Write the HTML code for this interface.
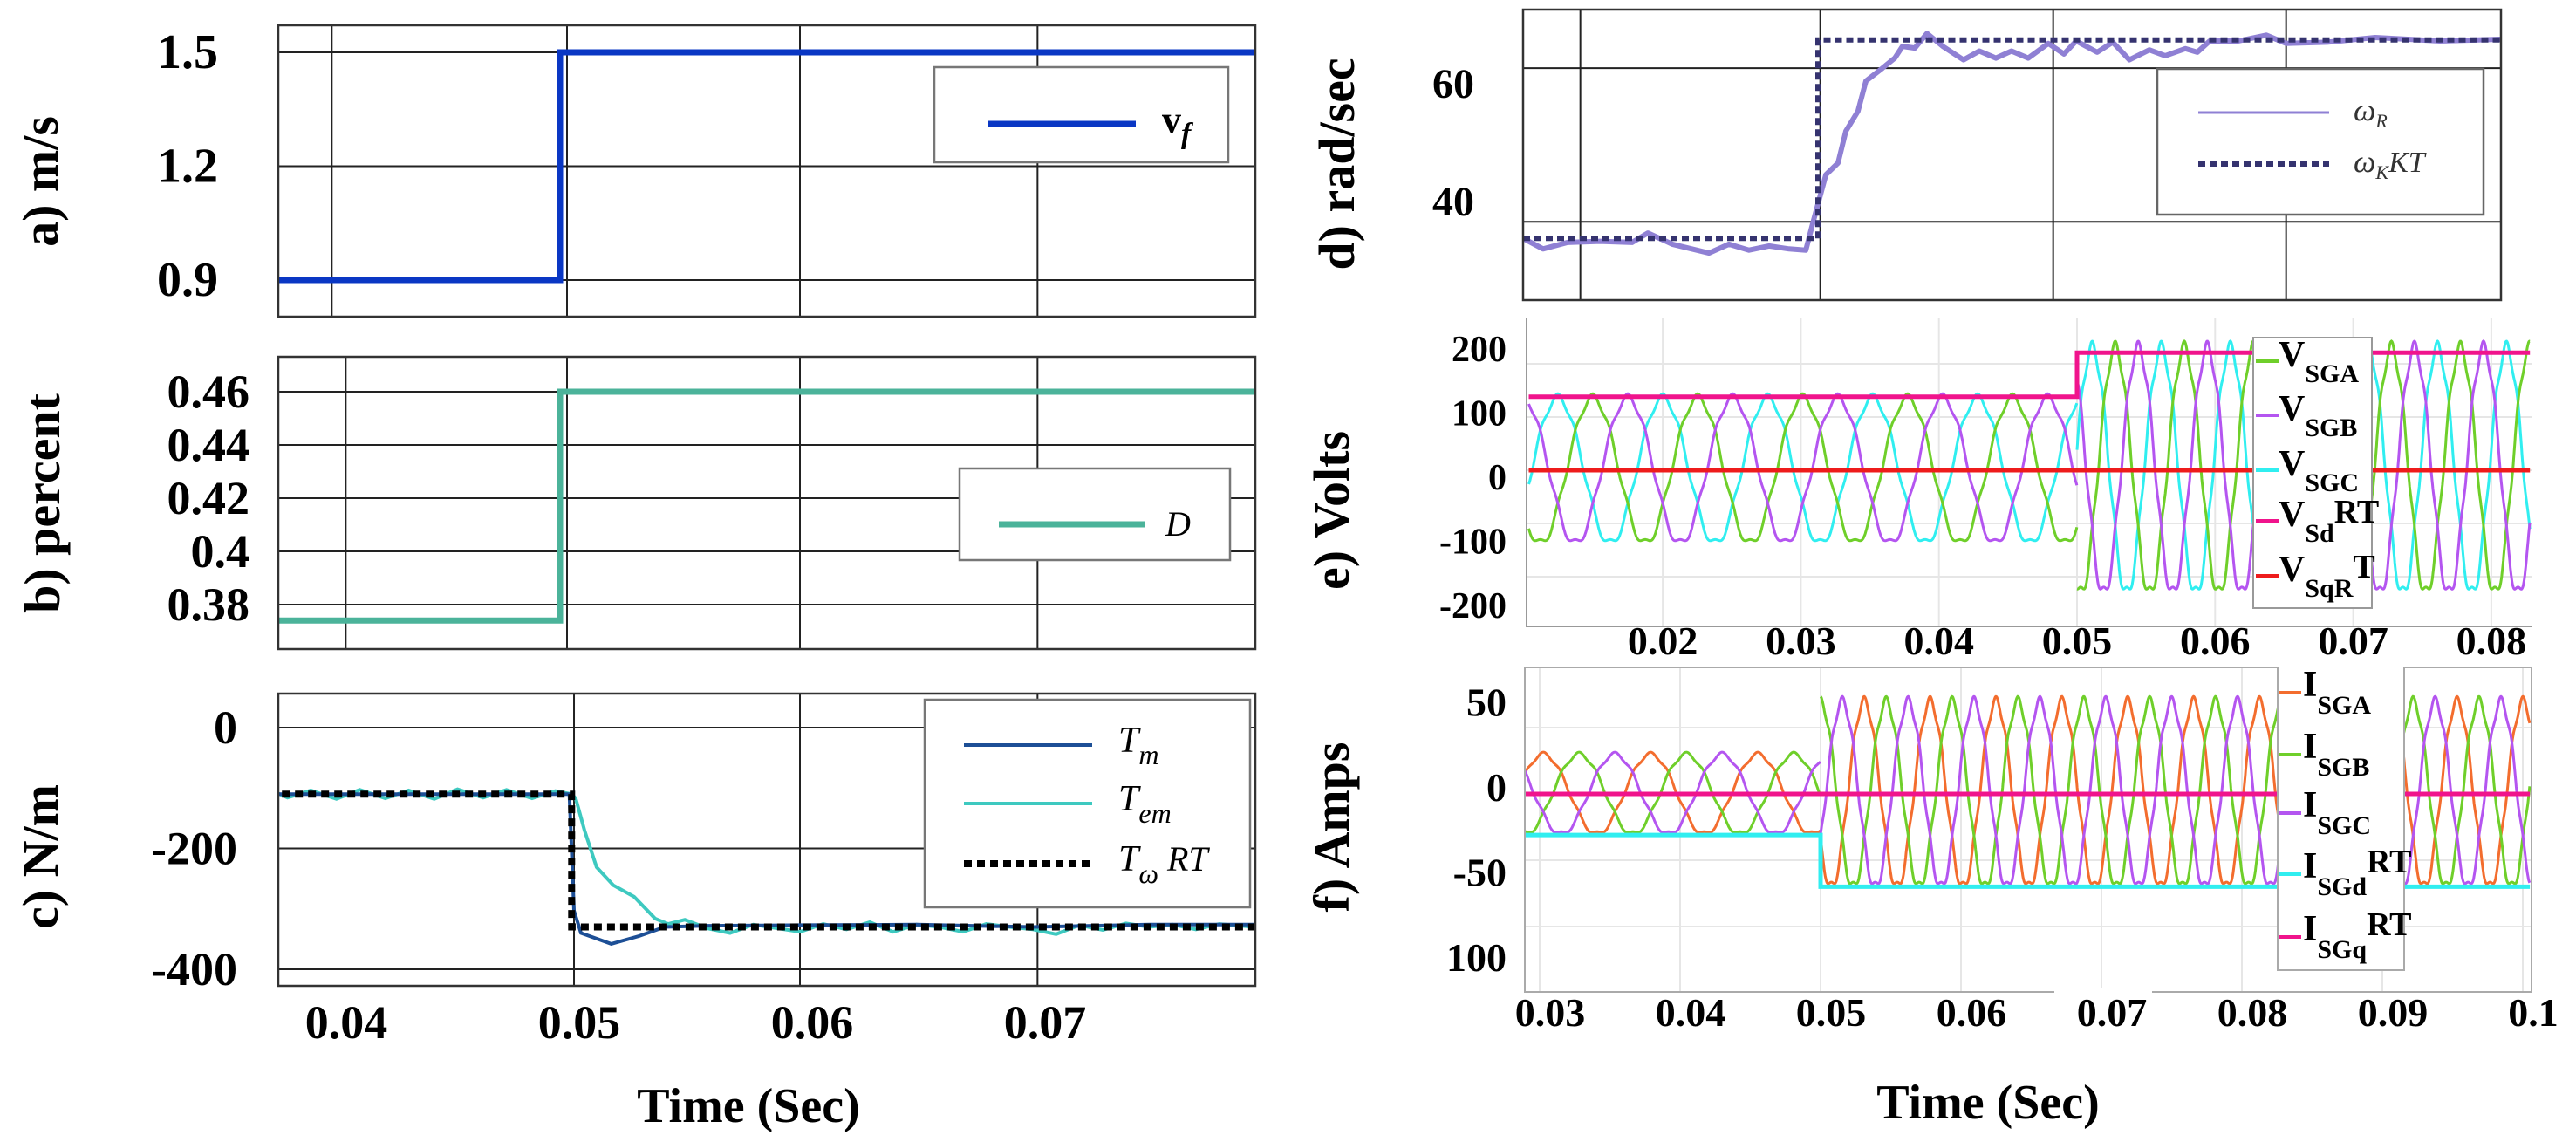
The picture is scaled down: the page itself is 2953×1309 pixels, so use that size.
<!DOCTYPE html>
<html><head><meta charset="utf-8">
<style>
html,body{margin:0;padding:0;background:#fff;}
svg{display:block;}
text{font-family:"Liberation Serif",serif;}
</style></head>
<body>
<svg id="chart" width="2953" height="1309" viewBox="0 0 2953 1309" xmlns="http://www.w3.org/2000/svg">
<defs>
<clipPath id="clipA"><rect x="319" y="29" width="1120" height="334"/></clipPath>
<clipPath id="clipB"><rect x="319" y="409" width="1120" height="335"/></clipPath>
<clipPath id="clipC"><rect x="319" y="795" width="1120" height="335"/></clipPath>
<clipPath id="clipD"><rect x="1746" y="11" width="1121" height="333"/></clipPath>
<clipPath id="clipE"><rect x="1750" y="365" width="1152" height="353"/></clipPath>
<clipPath id="clipF"><rect x="1748" y="765" width="1154" height="372"/></clipPath>
</defs>
</svg>
<script>
// ---------- data ----------
const vfTime=[0.0372,0.0497,0.0497,0.0795];
const vfValue=[0.9,0.9,1.5,1.5];
const aTicks=[0.9,1.2,1.5];
const aGridTimes=[0.0399,0.05,0.06,0.0702];

const dutyTime=[0.0372,0.0497,0.0497,0.0795];
const dutyValue=[0.374,0.374,0.46,0.46];
const bTicks=[0.38,0.4,0.42,0.44,0.46];
const bTickLabels=["0.38","0.4","0.42","0.44","0.46"];
const bGridTimes=[0.0405,0.05,0.06,0.0702];

const tmTime=[0.0372,0.0501,0.0503,0.0506,0.0519,0.0531,0.0542,0.056,0.06,0.065,0.07,0.075,0.0795];
const tmValue=[-110,-110,-303,-340,-358,-345,-330,-328,-327,-326,-330,-326,-326];
const temTime=[0.0372,0.0380,0.0390,0.0401,0.0411,0.0422,0.0432,0.0443,0.0453,0.0464,0.0474,0.0485,0.0495,0.0502,0.05037,0.05075,0.05127,0.05199,0.05288,0.05378,0.05434,0.05506,0.0560,0.0570,0.0580,0.0590,0.0600,0.0610,0.0620,0.0630,0.0640,0.0650,0.0660,0.0670,0.0680,0.0690,0.0700,0.0710,0.0720,0.0730,0.0740,0.0750,0.0760,0.0770,0.0780,0.0795];
const temValue=[-102,-116,-104,-118,-103,-117,-104,-118,-102,-116,-103,-117,-105,-110,-117,-170,-231,-261,-280,-316,-325,-318,-332,-340,-326,-332,-338,-325,-334,-322,-338,-326,-330,-338,-325,-330,-334,-342,-327,-335,-324,-330,-326,-334,-325,-330];
const twTime=[0.0372,0.0502,0.0502,0.0795];
const twValue=[-110,-110,-330,-330];
const cTicks=[0,-200,-400];
const cGridTimes=[0.0503,0.06,0.0702];
const leftXTicks=[0.04,0.05,0.06,0.07];

const wrTime=[0.03734,0.0382,0.03925,0.04064,0.04202,0.0427,0.04375,0.04532,0.04618,0.04704,0.0479,0.04876,0.04948,0.04981,0.05034,0.05086,0.0512,0.05172,0.05206,0.05277,0.0533,0.05363,0.05416,0.05468,0.05536,0.05625,0.05693,0.05764,0.05831,0.05903,0.05989,0.06056,0.06109,0.06199,0.06266,0.06337,0.06423,0.06491,0.06577,0.06629,0.06682,0.06805,0.06925,0.07011,0.07187,0.07393,0.0767,0.07933];
const wrValue=[33.9,32.1,33.2,33.4,33.2,34.8,32.9,31.4,32.9,31.9,32.6,32.1,31.9,36.9,44.7,46.7,52.1,55.5,60.6,62.8,64.5,66.5,66.2,68.7,66.5,64.2,65.7,64.5,65.7,64.5,67.0,65.2,67.4,65.5,67.2,64.2,65.9,64.9,66.1,65.5,67.4,67.4,68.4,67.0,67.2,68.0,67.4,67.7];
const kktTime=[0.03734,0.05,0.05,0.0794];
const kktValue=[33.9,33.9,67.6,67.6];
const dTicks=[40,60];
const dGridValues=[36.7,62.8];
const dGridTimes=[0.0398,0.0501,0.0601,0.0701];

const vSegStart=[0.0103,0.05];
const vSegEnd=[0.05,0.0828];
const vAmp=[137,231];
const vPeriod=[0.0076,0.005];
const vFirstPeak=[0.0124,0.0511];
const vSdRT=[138,221];
const vSqRT=[0,0];
const eTicks=[200,100,0,-100,-200];
const eXTicks=[0.02,0.03,0.04,0.05,0.06,0.07,0.08];

const iSegStart=[0.0289,0.05];
const iSegEnd=[0.05,0.1005];
const iAmp=[30,70];
const iPeriod=[0.00764,0.00469];
const iFirstPeak=[0.0379,0.0578];
const iSGdRT=[-31,-70];
const iSGqRT=[0,0];
const fTicks=[50,0,-50,-100];
const fTickLabels=["50","0","-50","100"];
const fXTicks=[0.03,0.04,0.05,0.06,0.07,0.08,0.09,0.1];
const fXTickLabels=["0.03","0.04","0.05","0.06","0.07","0.08","0.09","0.1"];

// ---------- scales ----------
const xL=t=>650+(t-0.05)*26700;
const xD=t=>2084+(t-0.05)*26700;
const xE=t=>2381+(t-0.05)*15830;
const xF=t=>2087+(t-0.05)*16100;
const yA=v=>321-(v-0.9)*435;
const yB=v=>449+(0.46-v)*3050;
const yC=v=>834-v*0.6925;
const yD=v=>232-(v-40)*6.75;
const yE=v=>539-v*0.61;
const yELabel=v=>547-v*0.735;
const yF=v=>910-v*1.52;
const yFLabel=v=>902-v*1.95;

const NS='http://www.w3.org/2000/svg';
const svg=document.getElementById('chart');
function el(tag,attrs,parent){const e=document.createElementNS(NS,tag);for(const k in attrs)e.setAttribute(k,attrs[k]);(parent||svg).appendChild(e);return e;}
function pathFrom(ts,vs,xs,ys){let d='';for(let i=0;i<ts.length;i++){d+=(i?'L':'M')+xs(ts[i]).toFixed(1)+' '+ys(vs[i]).toFixed(1);}return d;}
function txt(x,y,s,size,parent,extra){const t=el('text',Object.assign({x:x,y:y,'font-size':size,'font-weight':'bold'},extra||{}),parent);t.textContent=s;return t;}

// ---------- Panel A ----------
const gA=el('g',{});


aTicks.forEach(v=>{const l=el('line',{x1:319,x2:1439,y1:yA(v),y2:yA(v),stroke:'#222','stroke-width':2},gA);


const t=txt(250,yA(v)+18,v.toFixed(1),56,gA,{'text-anchor':'end'});

});
aGridTimes.forEach(tm=>{const l=el('line',{x1:xL(tm),x2:xL(tm),y1:29,y2:363,stroke:'#222','stroke-width':2},gA);

});
const vfLine=el('path',{d:pathFrom(vfTime,vfValue,xL,yA),fill:'none',stroke:'#0a37c4','stroke-width':7,'clip-path':'url(#clipA)'},gA);


const frA=el('rect',{x:319,y:29,width:1120,height:334,fill:'none',stroke:'#333','stroke-width':2.5},gA);


const legA=el('g',{},gA);


el('rect',{x:1071,y:77,width:337,height:109,fill:'#fff',stroke:'#777','stroke-width':2.5},legA);
el('line',{x1:1133,x2:1302,y1:142,y2:142,stroke:'#0a37c4','stroke-width':7},legA);
const la=txt(1332,152,'v',44,legA);


const laS=el('tspan',{'font-size':34,'font-style':'italic',dy:12},la);laS.textContent='f';
const ylA=txt(0,0,'a) m/s',58,gA,{transform:'translate(66,208) rotate(-90)','text-anchor':'middle'});



// ---------- Panel B ----------
const gB=el('g',{});


bTicks.forEach((v,i)=>{const l=el('line',{x1:319,x2:1439,y1:yB(v),y2:yB(v),stroke:'#222','stroke-width':2},gB);


const t=txt(286,yB(v)+18,bTickLabels[i],54,gB,{'text-anchor':'end'});

});
bGridTimes.forEach(tm=>{const l=el('line',{x1:xL(tm),x2:xL(tm),y1:409,y2:744,stroke:'#222','stroke-width':2},gB);

});
const dLine=el('path',{d:pathFrom(dutyTime,dutyValue,xL,yB),fill:'none',stroke:'#4bb39a','stroke-width':7,'clip-path':'url(#clipB)'},gB);


const frB=el('rect',{x:319,y:409,width:1120,height:335,fill:'none',stroke:'#333','stroke-width':2.5},gB);


const legB=el('g',{},gB);


el('rect',{x:1100,y:537,width:310,height:105,fill:'#fff',stroke:'#777','stroke-width':2.5},legB);
el('line',{x1:1145,x2:1313,y1:601,y2:601,stroke:'#4bb39a','stroke-width':7},legB);
const lb=txt(1336,614,'D',40,legB,{'font-style':'italic','font-weight':'normal'});


const ylB=txt(0,0,'b) percent',58,gB,{transform:'translate(68,577) rotate(-90)','text-anchor':'middle'});



// ---------- Panel C ----------
const gC=el('g',{});


cTicks.forEach(v=>{const l=el('line',{x1:319,x2:1439,y1:yC(v),y2:yC(v),stroke:'#222','stroke-width':2},gC);


const t=txt(272,yC(v)+18,String(v),54,gC,{'text-anchor':'end'});

});
cGridTimes.forEach(tm=>{const l=el('line',{x1:xL(tm),x2:xL(tm),y1:795,y2:1130,stroke:'#222','stroke-width':2},gC);

});
const temLine=el('path',{d:pathFrom(temTime,temValue,xL,yC),fill:'none',stroke:'#3ec9c0','stroke-width':4,'clip-path':'url(#clipC)'},gC);


const tmLine=el('path',{d:pathFrom(tmTime,tmValue,xL,yC),fill:'none',stroke:'#1d4f96','stroke-width':4,'clip-path':'url(#clipC)'},gC);


const twLine=el('path',{d:pathFrom(twTime,twValue,xL,yC),fill:'none',stroke:'#000','stroke-width':8,'stroke-dasharray':'9 6','clip-path':'url(#clipC)'},gC);


const frC=el('rect',{x:319,y:795,width:1120,height:335,fill:'none',stroke:'#333','stroke-width':2.5},gC);


const legC=el('g',{},gC);


el('rect',{x:1060,y:802,width:373,height:238,fill:'#fff',stroke:'#777','stroke-width':2.5},legC);
[['#1d4f96','m',854,4,null],['#3ec9c0','em',921,4,null],['#000','\u03c9',990,8,'9 6']].forEach((e,i)=>{
const ln=el('line',{x1:1105,x2:1252,y1:e[2],y2:e[2],stroke:e[0],'stroke-width':e[3]},legC);
if(e[4])ln.setAttribute('stroke-dasharray',e[4]);
const t=txt(1282,e[2]+8,'T',42,legC,{'font-style':'italic','font-weight':'normal'});


const s=el('tspan',{'font-size':32,dy:14},t);s.textContent=e[1];
if(i===2){const r=el('tspan',{dy:-14,'font-size':40},t);r.textContent=' RT';}});
leftXTicks.forEach(tm=>{const t=txt(xL(tm)+14,1190,tm.toFixed(2),54,null,{'text-anchor':'middle'});

});
const ylC=txt(0,0,'c) N/m',58,gC,{transform:'translate(66,982) rotate(-90)','text-anchor':'middle'});


const xtL=txt(858,1286,'Time (Sec)',56,null,{'text-anchor':'middle'});



// ---------- Panel D ----------
const gD=el('g',{});


dGridValues.forEach(v=>{const l=el('line',{x1:1746,x2:2867,y1:yD(v),y2:yD(v),stroke:'#222','stroke-width':2},gD);

});
dGridTimes.forEach(tm=>{const l=el('line',{x1:xD(tm),x2:xD(tm),y1:11,y2:344,stroke:'#222','stroke-width':2},gD);

});
dTicks.forEach(v=>{const t=txt(1690,yD(v)+15,String(v),48,gD,{'text-anchor':'end'});

});
const wrLine=el('path',{d:pathFrom(wrTime,wrValue,xD,yD),fill:'none',stroke:'#8f80d4','stroke-width':6,'stroke-linejoin':'round','clip-path':'url(#clipD)'},gD);


const kktLine=el('path',{d:pathFrom(kktTime,kktValue,xD,yD),fill:'none',stroke:'#35336f','stroke-width':6,'stroke-dasharray':'8 5','clip-path':'url(#clipD)'},gD);


const frD=el('rect',{x:1746,y:11,width:1121,height:333,fill:'none',stroke:'#333','stroke-width':2.5},gD);


const legD=el('g',{},gD);


el('rect',{x:2473,y:79,width:374,height:167,fill:'#fff',stroke:'#666','stroke-width':2.5},legD);
el('line',{x1:2520,x2:2670,y1:129,y2:129,stroke:'#8f80d4','stroke-width':3},legD);
el('line',{x1:2520,x2:2670,y1:188,y2:188,stroke:'#35336f','stroke-width':6,'stroke-dasharray':'8 5'},legD);
const ld1=txt(2698,138,'\u03c9',36,legD,{'font-family':'Liberation Sans, sans-serif','font-style':'italic','font-weight':'normal',fill:'#333'});


const ld1s=el('tspan',{'font-size':22,dy:8},ld1);ld1s.textContent='R';
const ld2=txt(2698,197,'\u03c9',36,legD,{'font-family':'Liberation Sans, sans-serif','font-style':'italic','font-weight':'normal',fill:'#333'});


const ld2s=el('tspan',{'font-size':22,dy:8},ld2);ld2s.textContent='K';
const ld2t=el('tspan',{'font-size':34,dy:-8},ld2);ld2t.textContent='KT';
const ylD=txt(0,0,'d) rad/sec',58,gD,{transform:'translate(1552,188) rotate(-90)','text-anchor':'middle'});



// ---------- wave helper ----------
function wave(tStart,tEnd,amp,period,peak,phaseFrac,xs,ys){
  let d='';const step=0.00003;let first=true;
  for(let t=tStart;t<=tEnd+1e-9;t+=step){
    const ph=2*Math.PI*(t-peak-phaseFrac*period)/period;
    const v=amp*(Math.cos(ph)+0.05*Math.cos(6*ph));
    d+=(first?'M':'L')+xs(t).toFixed(1)+' '+ys(v).toFixed(1);first=false;}
  return d;}

// ---------- Panel E ----------
const gE=el('g',{});


eTicks.forEach(v=>{const l=el('line',{x1:1750,x2:2902,y1:yE(v),y2:yE(v),stroke:'#e6e6e6','stroke-width':2},gE);


const t=txt(1727,yELabel(v)+14,String(v),42,gE,{'text-anchor':'end'});

});
eXTicks.forEach(tm=>{const l=el('line',{x1:xE(tm),x2:xE(tm),y1:365,y2:718,stroke:'#e6e6e6','stroke-width':2},gE);

});
const eColors=['#30eef0','#6fcf2a','#b455f0'];
const eNames=['v-sgc-line','v-sga-line','v-sgb-line'];
for(let s=0;s<2;s++){for(let k=0;k<3;k++){
const p=el('path',{d:wave(vSegStart[s],vSegEnd[s],vAmp[s],vPeriod[s],vFirstPeak[s],k/3,xE,yE),fill:'none',stroke:eColors[k],'stroke-width':3,'clip-path':'url(#clipE)'},gE);

}}
const sdT=[vSegStart[0],vSegEnd[0],vSegStart[1],vSegEnd[1]];
const sdV=[vSdRT[0],vSdRT[0],vSdRT[1],vSdRT[1]];
const sqV=[vSqRT[0],vSqRT[0],vSqRT[1],vSqRT[1]];
const sdLine=el('path',{d:pathFrom(sdT,sdV,xE,yE),fill:'none',stroke:'#f0148c','stroke-width':5,'clip-path':'url(#clipE)'},gE);


const sqLine=el('path',{d:pathFrom(sdT,sqV,xE,yE),fill:'none',stroke:'#ee1c1c','stroke-width':5,'clip-path':'url(#clipE)'},gE);


const axE=el('path',{d:'M1750 365 L1750 718 L2902 718',fill:'none',stroke:'#999','stroke-width':2},gE);


eXTicks.forEach(tm=>{const t=txt(xE(tm),750,tm.toFixed(2),46,gE,{'text-anchor':'middle'});

});
const legE=el('g',{},gE);


el('rect',{x:2583,y:387,width:136,height:310,fill:'#fff',stroke:'#999','stroke-width':2},legE);
const eLeg=[['#6fcf2a','SGA',''],['#b455f0','SGB',''],['#30eef0','SGC',''],['#f0148c','Sd','RT'],['#ee1c1c','SqR','T']];
const eLegY=[414,476,539,597,660];
eLeg.forEach((e,i)=>{el('line',{x1:2586,x2:2612,y1:eLegY[i],y2:eLegY[i],stroke:e[0],'stroke-width':4},legE);
const t=txt(2612,eLegY[i]+6,'V',42,legE);


const s=el('tspan',{'font-size':30,dy:18},t);s.textContent=e[1];
if(e[2]){const r=el('tspan',{'font-size':38,dy:-22},t);r.textContent=e[2];}});
const ylE=txt(0,0,'e) Volts',58,gE,{transform:'translate(1546,585) rotate(-90)','text-anchor':'middle'});



// ---------- Panel F ----------
const gF=el('g',{});


fTicks.forEach((v,i)=>{const l=el('line',{x1:1748,x2:2902,y1:yF(v),y2:yF(v),stroke:'#e6e6e6','stroke-width':2},gF);


const t=txt(1727,yFLabel(v)+16,fTickLabels[i],46,gF,{'text-anchor':'end'});

});
fXTicks.forEach(tm=>{const l=el('line',{x1:xF(tm),x2:xF(tm),y1:765,y2:1137,stroke:'#e6e6e6','stroke-width':2},gF);

});
const fColors=['#f36d2e','#6fcf2a','#b455f0'];
const fNames=['i-sga-line','i-sgb-line','i-sgc-line'];
for(let s=0;s<2;s++){for(let k=0;k<3;k++){
const p=el('path',{d:wave(iSegStart[s],iSegEnd[s],iAmp[s],iPeriod[s],iFirstPeak[s],k/3,xF,yF),fill:'none',stroke:fColors[k],'stroke-width':3,'clip-path':'url(#clipF)'},gF);

}}
const fdT=[iSegStart[0],iSegEnd[0],iSegStart[1],iSegEnd[1]];
const fdV=[iSGdRT[0],iSGdRT[0],iSGdRT[1],iSGdRT[1]];
const fqV=[iSGqRT[0],iSGqRT[0],iSGqRT[1],iSGqRT[1]];
const idLine=el('path',{d:pathFrom(fdT,fdV,xF,yF),fill:'none',stroke:'#30eef0','stroke-width':5,'clip-path':'url(#clipF)'},gF);


const iqLine=el('path',{d:pathFrom(fdT,fqV,xF,yF),fill:'none',stroke:'#f0148c','stroke-width':5,'clip-path':'url(#clipF)'},gF);


const axF=el('rect',{x:1748,y:765,width:1154,height:372,fill:'none',stroke:'#aaa','stroke-width':2},gF);


el('rect',{x:2355,y:1132,width:112,height:10,fill:'#fff'},gF);
fXTicks.forEach((tm,i)=>{const t=txt(xF(tm)+12,1176,fXTickLabels[i],46,gF,{'text-anchor':'middle'});

});
const legF=el('g',{},gF);


el('rect',{x:2611,y:758,width:145,height:354,fill:'#fff',stroke:'#aaa','stroke-width':2},legF);
el('rect',{x:2605,y:755,width:160,height:9,fill:'#fff'},legF);
const fLeg=[['#f36d2e','SGA',''],['#6fcf2a','SGB',''],['#b455f0','SGC',''],['#30eef0','SGd','RT'],['#f0148c','SGq','RT']];
const fLegY=[794,865,932,1002,1074];
fLeg.forEach((e,i)=>{el('line',{x1:2613,x2:2638,y1:fLegY[i],y2:fLegY[i],stroke:e[0],'stroke-width':4},legF);
const t=txt(2640,fLegY[i]+4,'I',42,legF);


const s=el('tspan',{'font-size':30,dy:20},t);s.textContent=e[1];
if(e[2]){const r=el('tspan',{'font-size':38,dy:-26},t);r.textContent=e[2];}});
const ylF=txt(0,0,'f) Amps',58,gF,{transform:'translate(1546,948) rotate(-90)','text-anchor':'middle'});


const xtR=txt(2279,1282,'Time (Sec)',56,null,{'text-anchor':'middle'});


</script>
</body></html>
